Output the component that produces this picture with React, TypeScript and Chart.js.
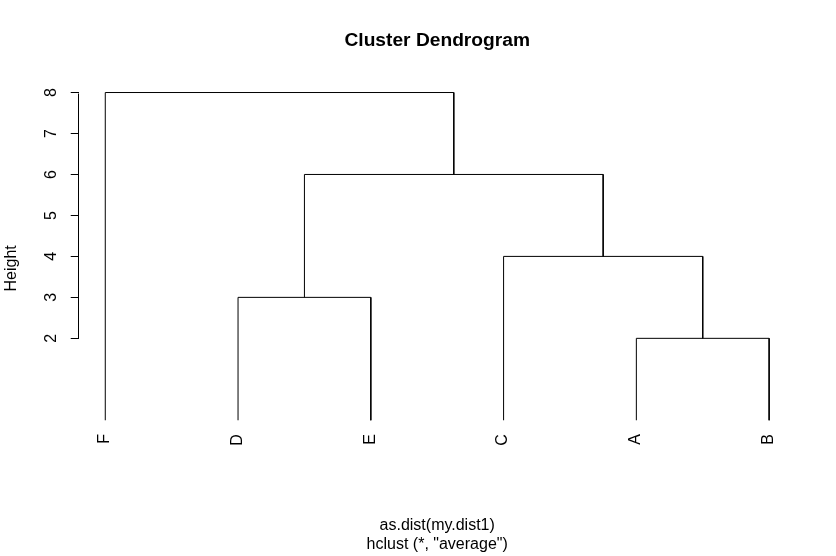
import React, { useEffect, useRef } from 'react';
import { Chart, registerables } from 'chart.js';

Chart.register(...registerables);

// Leaves in plotted order (left to right)
const leafLabels = ['F', 'D', 'E', 'C', 'A', 'B'];
// Merge steps (R style): negative = leaf position in leafLabels (1-based), positive = earlier step (1-based)
const mergeLeft = [-5, -2, -4, 2, -1];
const mergeRight = [-6, -3, 1, 3, 4];
const mergeHeights = [2, 3, 4, 6, 8];
const yTickValues = [2, 3, 4, 5, 6, 7, 8];

const titleText = 'Cluster Dendrogram';
const xTitleLines = ['as.dist(my.dist1)', 'hclust (*, "average")'];
const yTitleText = 'Height';

function buildSegments() {
  const nodeX: number[] = [];
  const nodeY: number[] = [];
  const pos = (ref: number) =>
    ref < 0 ? { x: -ref, y: 0 } : { x: nodeX[ref - 1], y: nodeY[ref - 1] };
  return mergeHeights.map((h, i) => {
    const a = pos(mergeLeft[i]);
    const b = pos(mergeRight[i]);
    nodeX[i] = (a.x + b.x) / 2;
    nodeY[i] = h;
    return [
      { x: a.x, y: a.y },
      { x: a.x, y: h },
      { x: b.x, y: h },
      { x: b.x, y: b.y },
    ];
  });
}

const axisLinePlugin = {
  id: 'axisLine',
  afterDraw(chart: any) {
    const y = chart.scales.y;
    const ctx = chart.ctx;
    const x = Math.round(chart.chartArea.left - 0.5) + 0.5;
    const y1 = y.getPixelForValue(yTickValues[0]);
    const y2 = y.getPixelForValue(yTickValues[yTickValues.length - 1]);
    ctx.save();
    ctx.strokeStyle = '#000';
    ctx.lineWidth = 1;
    ctx.beginPath();
    ctx.moveTo(x, Math.round(y1) + 0.5);
    ctx.lineTo(x, Math.round(y2) + 0.5);
    ctx.stroke();
    ctx.restore();
  },
};

export default function App() {
  const ref = useRef<HTMLCanvasElement>(null);
  useEffect(() => {
    document.body.style.margin = '0';
    Chart.defaults.font.family = '"Liberation Sans", Arial, sans-serif';
    Chart.defaults.color = '#000';
    const segments = buildSegments();
    const chart = new Chart(ref.current!, {
      type: 'scatter',
      data: {
        datasets: segments.map((seg) => ({
          data: seg,
          showLine: true,
          borderColor: '#000',
          borderWidth: 1,
          pointRadius: 0,
          tension: 0,
          fill: false,
        })),
      },
      options: {
        responsive: false,
        animation: false,
        devicePixelRatio: 1,
        layout: { padding: { left: 0, right: 40.32, top: 0, bottom: 0 } },
        plugins: {
          legend: { display: false },
          tooltip: { enabled: false },
          title: {
            display: true,
            text: titleText,
            fullSize: false,
            color: '#000',
            font: { size: 19.2, weight: 'bold', lineHeight: 1.2 },
            padding: { top: 29, bottom: 26.68 },
          },
        },
        scales: {
          x: {
            type: 'linear',
            min: 0.8,
            max: 6.2,
            afterBuildTicks: (scale: any) => {
              scale.ticks = leafLabels.map((_, i) => ({ value: i + 1 }));
            },
            afterFit: (scale: any) => {
              scale.height = 97.92;
            },
            grid: { display: false, drawTicks: false },
            border: { display: false },
            ticks: {
              autoSkip: false,
              mirror: true,
              minRotation: 90,
              maxRotation: 90,
              padding: 24,
              labelOffset: 18.5,
              color: '#000',
              font: { size: 16 },
              callback: (v: any) => leafLabels[Number(v) - 1] ?? '',
            },
            title: {
              display: true,
              text: xTitleLines,
              color: '#000',
              font: { size: 16, lineHeight: 1.2 },
              padding: { top: 0, bottom: 1.7 },
            },
          },
          y: {
            type: 'linear',
            min: -0.923,
            max: 8.337,
            afterBuildTicks: (scale: any) => {
              scale.ticks = yTickValues.map((v) => ({ value: v }));
            },
            afterFit: (scale: any) => {
              scale.width = 78.72;
            },
            grid: {
              display: true,
              drawOnChartArea: false,
              drawTicks: true,
              tickLength: 8,
              color: '#000',
              lineWidth: 1,
            },
            border: { display: false },
            ticks: {
              minRotation: 90,
              maxRotation: 90,
              crossAlign: 'center',
              padding: 15,
              color: '#000',
              font: { size: 16 },
              callback: (v: any) => String(v),
            },
            title: {
              display: true,
              text: yTitleText,
              color: '#000',
              font: { size: 16, lineHeight: 1.2 },
              padding: { top: 2.4, bottom: 0 },
            },
          },
        },
      } as any,
      plugins: [axisLinePlugin],
    });
    return () => chart.destroy();
  }, []);
  return (
    <div style={{ width: 836, height: 556 }}>
      <canvas ref={ref} width={836} height={556} />
    </div>
  );
}
